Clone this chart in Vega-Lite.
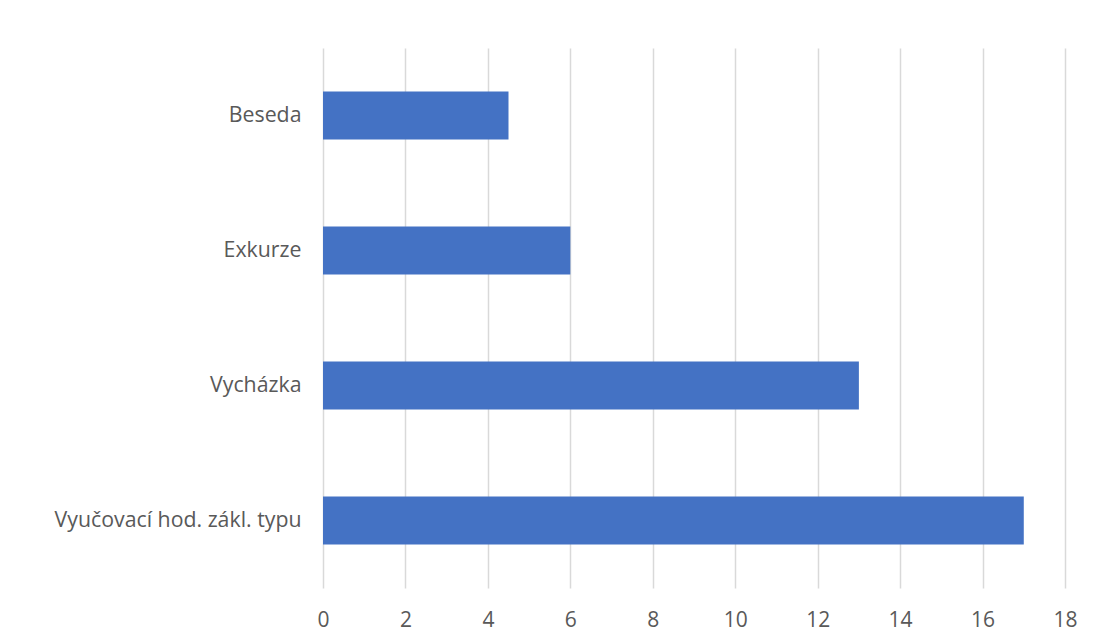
{
  "$schema": "https://vega.github.io/schema/vega-lite/v6.json",
  "width": 742,
  "height": 540,
  "autosize": {"type": "none"},
  "padding": {"left": 323, "top": 48, "right": 34, "bottom": 44},
  "background": "white",
  "config": {
    "view": {"stroke": null},
    "font": "Open Sans"
  },
  "data": {
    "values": [
      {"kategorie": "Beseda", "hodnota": 4.5},
      {"kategorie": "Exkurze", "hodnota": 6},
      {"kategorie": "Vycházka", "hodnota": 13},
      {"kategorie": "Vyučovací hod. zákl. typu", "hodnota": 17}
    ]
  },
  "mark": {"type": "bar", "color": "#4472C4"},
  "encoding": {
    "y": {
      "field": "kategorie",
      "type": "nominal",
      "sort": null,
      "title": null,
      "scale": {"paddingInner": 0.645, "paddingOuter": 0.3225},
      "axis": {
        "domain": false,
        "ticks": false,
        "grid": false,
        "labelFontSize": 21.3,
        "labelColor": "#595959",
        "labelPadding": 22,
        "labelLimit": 400
      }
    },
    "x": {
      "field": "hodnota",
      "type": "quantitative",
      "title": null,
      "scale": {"domain": [0, 18], "nice": false},
      "axis": {
        "values": [0, 2, 4, 6, 8, 10, 12, 14, 16, 18],
        "domain": false,
        "ticks": false,
        "grid": true,
        "gridColor": "#D9D9D9",
        "gridWidth": 1.5,
        "labelFlush": false,
        "labelFontSize": 21,
        "labelColor": "#595959",
        "labelPadding": 21
      }
    }
  }
}
